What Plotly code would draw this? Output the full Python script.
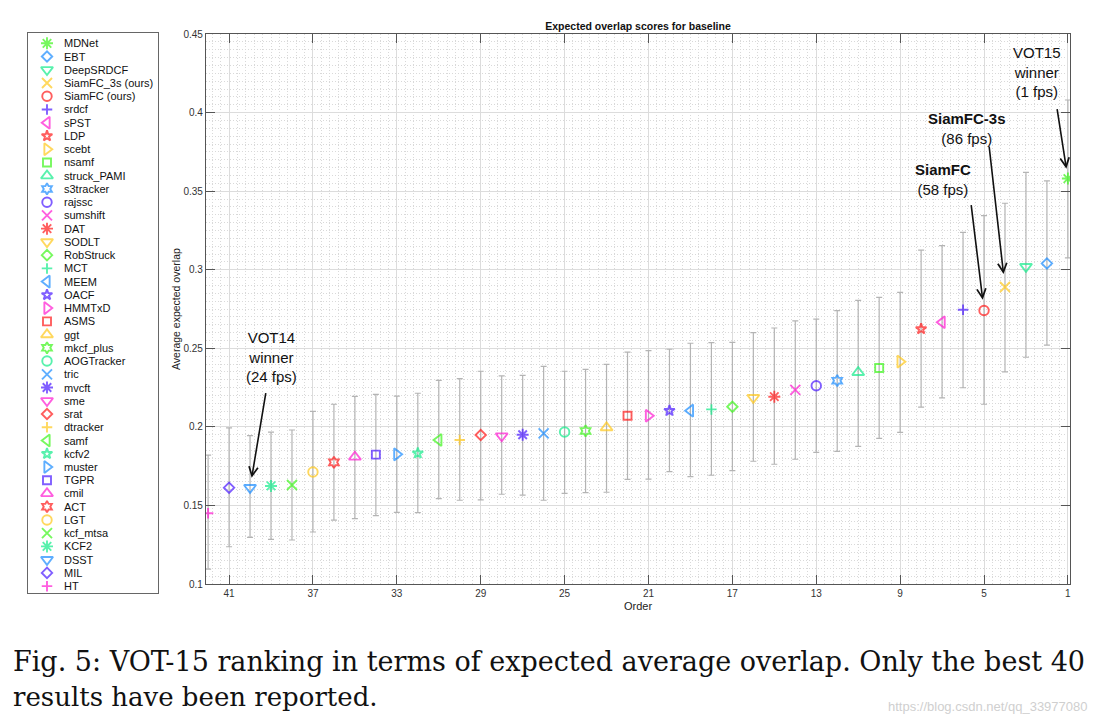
import plotly.graph_objects as go

# ---------------- data (rank 1 .. 42) ----------------
trackers = ["MDNet", "EBT", "DeepSRDCF", "SiamFC_3s (ours)", "SiamFC (ours)", "srdcf", "sPST", "LDP",
            "scebt", "nsamf", "struck_PAMI", "s3tracker", "rajssc", "sumshift", "DAT", "SODLT",
            "RobStruck", "MCT", "MEEM", "OACF", "HMMTxD", "ASMS", "ggt", "mkcf_plus", "AOGTracker",
            "tric", "mvcft", "sme", "srat", "dtracker", "samf", "kcfv2", "muster", "TGPR", "cmil",
            "ACT", "LGT", "kcf_mtsa", "KCF2", "DSST", "MIL", "HT"]
order = list(range(1, 43))
eao = [0.358, 0.304, 0.302, 0.289, 0.274, 0.2745, 0.2666, 0.2623, 0.2415, 0.2375, 0.2347, 0.2294,
       0.2262, 0.2235, 0.2192, 0.2186, 0.2128, 0.2111, 0.2103, 0.2103, 0.2071, 0.2071, 0.1995,
       0.1974, 0.1967, 0.1959, 0.195, 0.1942, 0.1948, 0.1916, 0.1916, 0.1832, 0.1825, 0.1823,
       0.1808, 0.1774, 0.1713, 0.163, 0.1624, 0.1613, 0.1613, 0.145]
eao_low = [0.3075, 0.252, 0.2443, 0.235, 0.2144, 0.2249, 0.2184, 0.2126, 0.1965, 0.1927, 0.1876,
           0.1844, 0.1838, 0.1794, 0.1762, 0.1781, 0.1721, 0.1692, 0.1683, 0.1715, 0.1668, 0.1666,
           0.1584, 0.1581, 0.1577, 0.1533, 0.1566, 0.1571, 0.1535, 0.1533, 0.1543, 0.1454, 0.1456,
           0.1435, 0.1416, 0.1407, 0.1331, 0.128, 0.1284, 0.1297, 0.1237, 0.1095]
eao_high = [0.408, 0.3565, 0.362, 0.3423, 0.3344, 0.3238, 0.3153, 0.3125, 0.2856, 0.2824, 0.2805,
            0.274, 0.2686, 0.2674, 0.2629, 0.26, 0.2538, 0.2536, 0.2532, 0.2494, 0.2485, 0.2475,
            0.2398, 0.2366, 0.2354, 0.2385, 0.2328, 0.2324, 0.2354, 0.2307, 0.2296, 0.2214, 0.2196,
            0.2207, 0.2194, 0.2144, 0.2099, 0.198, 0.1967, 0.1944, 0.1993, 0.182]
markers = ["*", "d", "v", "x", "o", "+", "<", "p", ">", "s", "^", "h", "o", "x", "*", "v", "d", "+",
           "<", "p", ">", "s", "^", "h", "o", "x", "*", "v", "d", "+", "<", "p", ">", "s", "^", "h",
           "o", "x", "*", "v", "d", "+"]
color_keys = ["g", "b", "c", "y", "r", "v", "m", "r", "y", "g", "c", "b", "v", "m", "r", "y", "g", "c",
              "b", "v", "m", "r", "y", "g", "c", "b", "v", "m", "r", "y", "g", "c", "b", "v", "m", "r",
              "y", "g", "c", "b", "v", "m"]
x_ticks = [41, 37, 33, 29, 25, 21, 17, 13, 9, 5, 1]
y_ticks = [0.1, 0.15, 0.2, 0.25, 0.3, 0.35, 0.4, 0.45]

caption_line1 = "Fig. 5: VOT-15 ranking in terms of expected average overlap. Only the best 40"
caption_line2 = "results have been reported."
watermark = "https://blog.csdn.net/qq_33977080"

# ---------------- styles / layout ----------------
PALETTE = {"g": "#3cf51a", "b": "#1a8cff", "c": "#12eb8a", "y": "#ffc81a",
           "r": "#ff1a1a", "v": "#4a1aff", "m": "#ff1ad2"}
SYMBOLS = {"*": ("asterisk-open", 10), "d": ("diamond-open", 8), "v": ("triangle-down-open", 10.5),
           "x": ("x-thin-open", 10), "o": ("circle-open", 9.5), "+": ("cross-thin-open", 7.5),
           "<": ("triangle-left-open", 10.5), "p": ("star-open", 8), ">": ("triangle-right-open", 10.5),
           "s": ("square-open", 8), "^": ("triangle-up-open", 10.5), "h": ("hexagram-open", 8.5)}

colors = [PALETTE[k] for k in color_keys]
symbols = [SYMBOLS[m][0] for m in markers]
sizes = [SYMBOLS[m][1] for m in markers]

W, H = 1100, 726
OFF = 8  # page body margin
FONT = "Liberation Sans, Arial, Helvetica, sans-serif"


def fx(px):
    return (px - OFF) / W


def fy(py):
    return 1 - (py - OFF) / H


PX0, PX1, PY0, PY1 = 206, 1070, 34, 584      # plot area (pixels)
LX0, LX1, LY0, LY1 = 28, 158, 33, 593        # legend box (pixels)

fig = go.Figure()

fig.add_trace(go.Scatter(
    x=order, y=eao, mode="markers", showlegend=False,
    error_y=dict(type="data", symmetric=False,
                 array=[h - v for h, v in zip(eao_high, eao)],
                 arrayminus=[v - l for v, l in zip(eao, eao_low)],
                 color="#b4b4b4", thickness=1.2, width=3),
    marker=dict(symbol=symbols, size=sizes, color=colors,
                line=dict(color=colors, width=1.9)),
    xaxis="x", yaxis="y",
))

legend_y = [-i for i in range(len(trackers))]
fig.add_trace(go.Scatter(
    x=[19] * len(trackers), y=legend_y, mode="markers", showlegend=False,
    marker=dict(symbol=symbols, size=sizes, color=colors,
                line=dict(color=colors, width=1.9)),
    xaxis="x2", yaxis="y2",
))

annotations = []
for name, yy in zip(trackers, legend_y):
    annotations.append(dict(x=34, y=yy, xref="x2", yref="y2", text=name, showarrow=False,
                            xanchor="left", yanchor="middle",
                            font=dict(family=FONT, size=11, color="#111")))

grid_major = "#dcdcdc"
grid_minor = "#d9d9d9"
axis_col = "#555555"

item_px = 13.24
top_val = (43.3 - LY0) / item_px
bot_val = top_val - (LY1 - LY0) / item_px

fig.update_layout(
    width=W, height=H, margin=dict(l=0, r=0, t=0, b=0, autoexpand=False),
    paper_bgcolor="white", plot_bgcolor="white",
    showlegend=False,
    xaxis=dict(domain=[fx(PX0), fx(PX1)], range=[42.1, 0.9], tickvals=x_ticks,
               automargin=False,
               ticks="inside", ticklen=9, tickcolor=axis_col, tickwidth=1,
               showline=True, linecolor=axis_col, linewidth=1.2, mirror="allticks",
               showgrid=True, gridcolor=grid_major, gridwidth=1, zeroline=False,
               minor=dict(dtick=0.4, tick0=1, showgrid=True, gridcolor=grid_minor,
                          griddash="1px,2px", gridwidth=1),
               tickfont=dict(family=FONT, size=10, color="#333"),
               title=dict(text="Order", font=dict(family=FONT, size=11, color="#222"), standoff=4)),
    yaxis=dict(domain=[fy(PY1), fy(PY0)], range=[0.1, 0.45], tickvals=y_ticks,
               ticktext=[f"{v:g}" for v in y_ticks], automargin=False,
               ticks="inside", ticklen=9, tickcolor=axis_col, tickwidth=1,
               showline=True, linecolor=axis_col, linewidth=1.2, mirror="allticks",
               showgrid=True, gridcolor=grid_major, gridwidth=1, zeroline=False,
               minor=dict(dtick=0.005, tick0=0.1, showgrid=True, gridcolor=grid_minor,
                          griddash="1px,2px", gridwidth=1),
               tickfont=dict(family=FONT, size=10, color="#333")),
    xaxis2=dict(domain=[fx(LX0), fx(LX1)], range=[0, LX1 - LX0], automargin=False,
                showline=True, linecolor="#666", linewidth=1.2, mirror=True,
                showgrid=False, zeroline=False, showticklabels=False, ticks="",
                anchor="y2"),
    yaxis2=dict(domain=[fy(LY1), fy(LY0)], range=[bot_val, top_val], automargin=False,
                showline=True, linecolor="#666", linewidth=1.2, mirror=True,
                showgrid=False, zeroline=False, showticklabels=False, ticks="",
                anchor="x2"),
    title=dict(text="<b>Expected overlap scores for baseline</b>", automargin=False,
               x=fx((PX0 + PX1) / 2), xanchor="center", y=fy(26), yanchor="middle",
               font=dict(family=FONT, size=10.5, color="#111")),
)

# y axis title
annotations.append(dict(x=fx(176), y=fy(309), xref="paper", yref="paper",
                        text="Average expected overlap", textangle=-90, showarrow=False,
                        xanchor="center", yanchor="middle",
                        font=dict(family=FONT, size=10.5, color="#222")))

ANN_FONT = dict(family=FONT, size=15, color="#111")
annotations += [
    dict(x=39.0, y=0.2445, xref="x", yref="y", text="VOT14<br>winner<br>(24 fps)",
         showarrow=False, font=ANN_FONT, align="center"),
    dict(x=6.95, y=0.3577, xref="x", yref="y", text="<b>SiamFC</b><br>(58 fps)",
         showarrow=False, font=ANN_FONT, align="center"),
    dict(x=5.81, y=0.3899, xref="x", yref="y", text="<b>SiamFC-3s</b><br>(86 fps)",
         showarrow=False, font=ANN_FONT, align="center"),
    dict(x=2.48, y=0.4258, xref="x", yref="y", text="VOT15<br>winner<br>(1 fps)",
         showarrow=False, font=ANN_FONT, align="center"),
]
arrow_specs = [("DSST", 16, -96, 10), ("SiamFC (ours)", -13, -107, 11),
               ("SiamFC_3s (ours)", -16, -142, 13), ("MDNet", -11, -71, 10)]
for name, axp, ayp, so in arrow_specs:
    i = trackers.index(name)
    annotations.append(dict(x=order[i], y=eao[i], xref="x", yref="y", text="",
                            showarrow=True, ax=axp, ay=ayp, arrowhead=5, arrowsize=1.1,
                            arrowwidth=1.6, arrowcolor="#111", standoff=so))

# caption
CAP_FAMILY = "DejaVu Serif, Liberation Serif, serif"
annotations += [
    dict(x=fx(12), y=fy(661), xref="paper", yref="paper", showarrow=False,
         text=caption_line1, xanchor="left", yanchor="middle", borderpad=0,
         font=dict(family=CAP_FAMILY, size=27, color="#111")),
    dict(x=fx(12), y=fy(697), xref="paper", yref="paper", showarrow=False,
         text=caption_line2, xanchor="left", yanchor="middle", borderpad=0,
         font=dict(family=CAP_FAMILY, size=26, color="#111")),
    dict(x=fx(1090), y=fy(706), xref="paper", yref="paper", showarrow=False,
         text=watermark, xanchor="right", yanchor="middle",
         font=dict(family="Liberation Sans Narrow, Liberation Sans, sans-serif", size=13,
                   color="#cfcfcf")),
]

fig.update_layout(annotations=annotations)
fig.write_html("out.html")
